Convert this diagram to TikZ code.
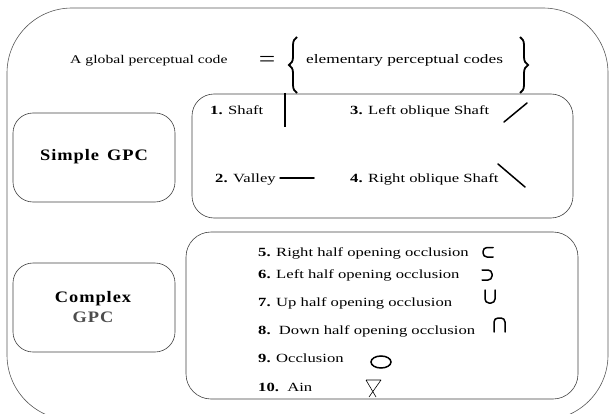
\documentclass[tikz,border=0pt]{standalone}
\usepackage{fontspec}
\setmainfont{Liberation Serif}[FakeStretch=1.33]
\newfontfamily\gpcfont{Liberation Serif}[FakeStretch=1.15,LetterSpace=6]
\usetikzlibrary{decorations.pathreplacing}
\begin{document}
\begin{tikzpicture}[x=1pt,y=-1pt,
  box/.style={draw=black!75,line width=0.6pt},
  txt/.style={anchor=base west,inner sep=0pt,font=\fontsize{12.5}{14}\selectfont},
  sym/.style={line width=1.5pt,line cap=round},
  halfocc/.style={sym,rounded corners=4pt},
  bracket/.style={line width=1.8pt,decoration={brace,amplitude=8pt},decorate},
  gpc/.style={align=center,inner sep=0pt,font=\gpcfont\bfseries\fontsize{16}{22}\selectfont}]
\useasboundingbox (0,0) rectangle (609,414);
\clip (0,0) rectangle (609,414);
% outer box
\draw[box,draw=black!65,rounded corners=65pt] (7,8) -- (608,8) -- (608,420) -- (7,420) -- cycle;
% left boxes
\draw[box,rounded corners=20pt] (13,113) rectangle (175,202);
\draw[box,rounded corners=20pt] (13,263) rectangle (175,352);
\node[gpc] (simple) at (94,157) {Simple\hspace{0.5em}GPC};
\node[gpc] (complex) at (93,307) {Complex\\[-2pt]{\color{black!70}GPC}};
% right boxes
\draw[box,rounded corners=22pt] (192,94) rectangle (573,218);
\draw[box,rounded corners=25pt] (186,232) rectangle (578,399);
% header
\node[txt,font=\fontsize{11.8}{14}\selectfont] (gpcode) at (70,64) {A global perceptual code};
\node[anchor=base,inner sep=0pt,font=\fontsize{22}{22}\selectfont] (eq) at (267,67) {=};
\draw[bracket] (297,93) -- (297,37);
\draw[bracket] (520,37) -- (520,93);
\node[txt,font=\fontsize{13}{14}\selectfont] (elem) at (306,64) {elementary perceptual codes};
% simple codes
\node[txt] (c1) at (210,115) {\textbf{1.} Shaft};
\draw[sym,line cap=butt] (285,93) -- (285,127);
\node[txt] (c3) at (350,115) {\textbf{3.} Left oblique Shaft};
\draw[sym] (504,122) -- (527,103);
\node[txt] (c2) at (215,182) {\textbf{2.} Valley};
\draw[sym] (280,178) -- (314,178);
\node[txt] (c4) at (350,182) {\textbf{4.} Right oblique Shaft};
\draw[sym] (498,164) -- (525,187);
% complex codes
\node[txt] (c5) at (258,256) {\textbf{5.} Right half opening occlusion};
\draw[halfocc] (493,247.5) -- (483,247.5) -- (483,257) -- (493,257);
\node[txt] (c6) at (258,278) {\textbf{6.} Left half opening occlusion};
\draw[halfocc] (482,270) -- (492,270) -- (492,280) -- (482,280);
\node[txt] (c7) at (258,306) {\textbf{7.} Up half opening occlusion};
\draw[halfocc] (485,290) -- (485,303) -- (495,303) -- (495,290);
\node[txt] (c8) at (258,334) {\textbf{8.}\ \ Down half opening occlusion};
\draw[halfocc] (494,332) -- (494,318) -- (505,318) -- (505,332);
\node[txt] (c9) at (258,362) {\textbf{9.} Occlusion};
\draw[sym] (381,362) ellipse [x radius=10, y radius=6];
\node[txt] (c10) at (258,391) {\textbf{10.}\ \ Ain};
\draw[line width=0.6pt] (366,380) -- (381,380) (366,380) -- (376,397) (381,380) -- (369,397);
\end{tikzpicture}
\end{document}
